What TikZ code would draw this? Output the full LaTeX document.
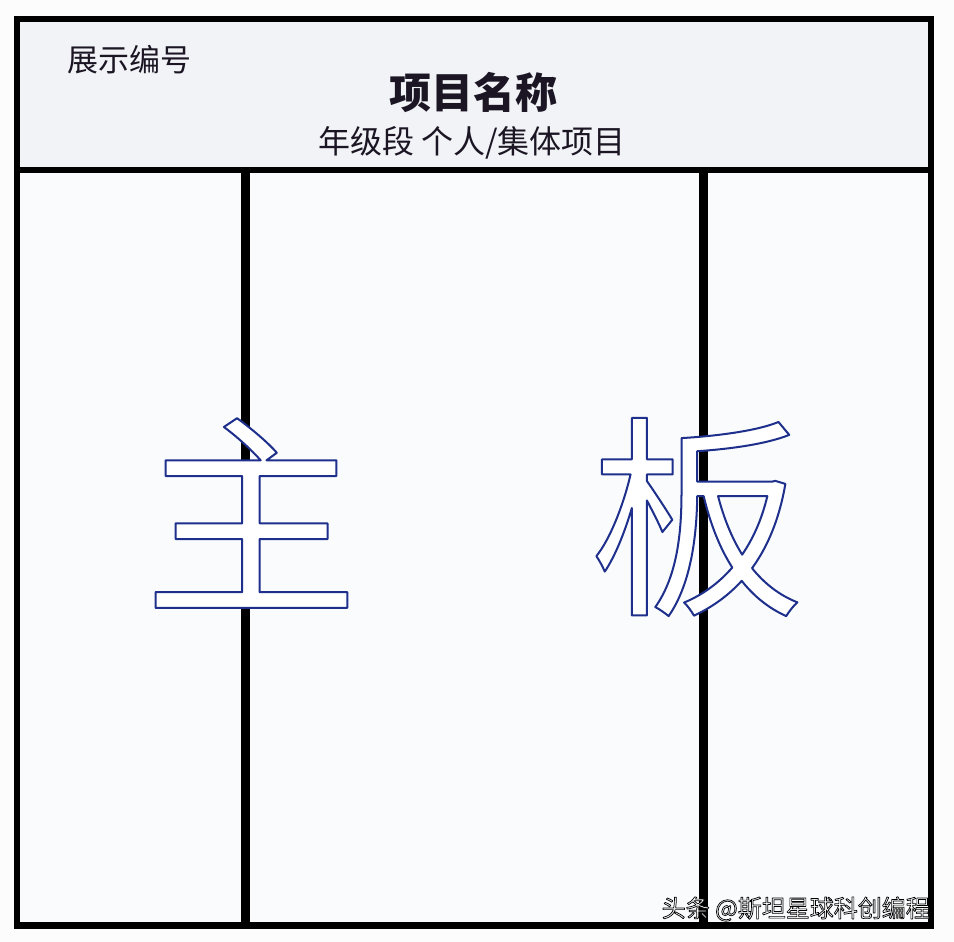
\documentclass[tikz,border=0pt]{standalone}
\usepackage{fontspec}
\newfontfamily\cjk{Noto Sans CJK SC}
\definecolor{bgc}{RGB}{252,252,253}
\definecolor{headgray}{RGB}{242,243,246}
\definecolor{panelc}{RGB}{250,251,253}
\definecolor{inkc}{RGB}{28,22,36}
% outlined text: fill colour white, stroke given as rgb and width
\newcommand{\outlinedtext}[3]{{\color{white}\special{pdf:code q #1 RG #2 w 1 j 2 Tr}#3\special{pdf:code Q}}}
\tikzset{
  frameline/.style={line width=6.5pt, draw=black},
  divider/.style={line width=9.5pt, draw=black},
  headtext/.style={text=inkc, inner sep=0pt},
  bigchar/.style={inner sep=0pt, font=\cjk\fontsize{215}{215}\selectfont},
}
\begin{document}
\begin{tikzpicture}[x=1pt,y=-1pt]
\useasboundingbox (0,0) rectangle (954,942);
\fill[bgc] (0,0) rectangle (954,942);
% panels
\fill[headgray] (17,19) rectangle (931,170);
\fill[panelc] (17,170) rectangle (931,925.5);
% named corners
\coordinate (tl) at (17,19);
\coordinate (br) at (931,925.5);
\coordinate (hl) at (17,170);
\coordinate (hr) at (931,170);
\coordinate (d1t) at (245.5,170);
\coordinate (d1b) at (245.5,925.5);
\coordinate (d2t) at (703.7,170);
\coordinate (d2b) at (703.7,925.5);
% dividers
\draw[divider] (d1t) -- (d1b);
\draw[divider] (d2t) -- (d2b);
% header texts
\node[headtext, anchor=west] (num) at (67,60) {\cjk\fontsize{31}{31}\selectfont 展示编号};
\node[headtext] (title) at (473,92) {\cjk\bfseries\fontsize{42}{42}\selectfont 项目名称};
\node[headtext] (sub) at (472,143) {\cjk\fontsize{32}{32}\selectfont 年级段 个人/集体项目};
% big characters
\node[bigchar] (zhu) at (251,513) {\outlinedtext{0.118 0.188 0.549}{2}{主}};
\node[bigchar] (ban) at (697,517) {\outlinedtext{0.118 0.188 0.549}{2}{板}};
% frame
\draw[frameline] (tl) rectangle (br);
\draw[line width=6pt] (hl) -- (hr);
% watermark
\node[inner sep=0pt, anchor=east] (wm) at (930,909) {\cjk\fontsize{24}{24}\selectfont\outlinedtext{0 0 0}{0.7}{头条 @斯坦星球科创编程}};
\end{tikzpicture}
\end{document}
